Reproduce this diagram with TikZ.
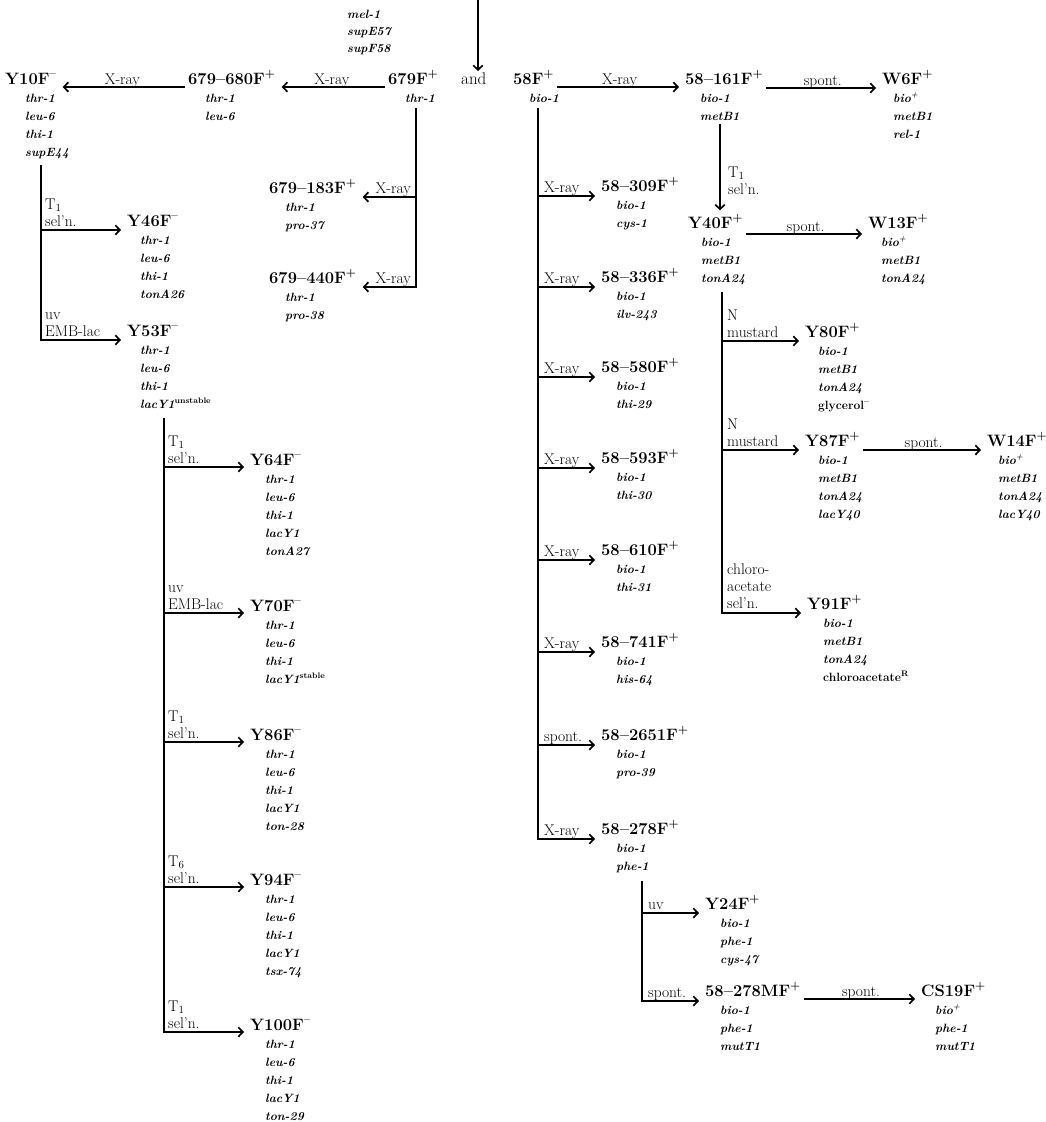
\documentclass[tikz,border=0pt]{standalone}
\usepackage{fontspec}
\usetikzlibrary{arrows.meta}

% gene lists (first baseline on top) and stacked branch labels (last baseline at bottom)
\newcommand\glines[1]{\begin{tabular}[t]{@{}l@{}}#1\end{tabular}}
\newcommand\llines[1]{\begin{tabular}[b]{@{}l@{}}#1\end{tabular}}
\newcommand\Fplus{F\textsuperscript{+}}
\newcommand\Fminus{F\textsuperscript{--}}
\newcommand\Tsub[1]{T\textsubscript{#1}}
% strain: id, x, baseline, name, x of genotype, genotype lines
\newcommand\strain[6]{%
  \node[nm] (#1) at (#2,#3) {#4};
  \node[gn] (#1g) at (#5,#3+18) {\glines{#6}};}

\begin{document}
\begin{tikzpicture}[x=1pt,y=-1pt,
  nm/.style={font=\fontsize{16.5}{18}\selectfont\bfseries, anchor=base west,
             inner xsep=3pt, inner ysep=1pt, xshift=-3pt},
  gn/.style={font=\fontsize{12}{18}\selectfont\bfseries\itshape, anchor=base west, inner sep=0pt},
  lab/.style={font=\fontsize{15.5}{17}\selectfont\addfontfeatures{FakeBold=0.8}, inner sep=0pt},
  arr/.style={line width=1.7pt, shorten >=3pt, -{Straight Barb[length=4.5pt,width=9.5pt]}},
]
\useasboundingbox (0,0) rectangle (1046,1122);

% ---- incoming line from above ----
\node[gn, font=\fontsize{12}{17}\selectfont\bfseries\itshape] (topg) at (347,18) {\glines{mel-1\\supE57\\supF58}};
\node[anchor=base west, font=\fontsize{17}{17}\selectfont\addfontfeatures{FakeBold=0.8}, inner sep=1pt] (and) at (460,84) {and};
\coordinate (tin) at (478,0);
\draw[arr, shorten >=0pt] (tin) -- (tin |- and.north);

% ---- main row ----
\strain{Y10}{5}{84}{Y10\Fminus}{25}{thr-1\\leu-6\\thi-1\\supE44}
\strain{S680}{188}{84}{679--680\Fplus}{205}{thr-1\\leu-6}
\strain{S679}{388}{84}{679\Fplus}{405}{thr-1}
\strain{S58}{513}{84}{58\Fplus}{529}{bio-1}
\strain{S161}{685}{84}{58--161\Fplus}{700}{bio-1\\metB1}
\strain{W6}{882}{84}{W6\Fplus}{893}{bio\textsuperscript{+}\\metB1\\rel-1}

\draw[arr] ([yshift=-3pt]S679.base west) -- ([yshift=-3pt]S680.base east)
  node[lab,midway,anchor=base,yshift=3pt]{X-ray};
\draw[arr] ([yshift=-3pt]S680.base west) -- ([yshift=-3pt]Y10.base east)
  node[lab,midway,anchor=base,yshift=3pt]{X-ray};
\draw[arr] ([yshift=-3pt]S58.base east) -- ([yshift=-3pt]S161.base west)
  node[lab,midway,anchor=base,yshift=3pt]{X-ray};
\draw[arr] ([yshift=-4pt]S161.base east) -- ([yshift=-4pt]W6.base west)
  node[lab,midway,anchor=base,yshift=3pt]{spont.};

% ---- 679 branches ----
\strain{S183}{269}{193}{679--183\Fplus}{285}{thr-1\\pro-37}
\strain{S440}{269}{283}{679--440\Fplus}{285}{thr-1\\pro-38}
\coordinate (t679) at (416,108);
\coordinate (k183) at (416,197);
\coordinate (k440) at (416,287);
\draw[arr] (k183) -- (k183 -| S183.east);
\draw[arr] (t679) -- (k440) -- (k440 -| S440.east);
\node[lab, anchor=base east] at (411,193) {X-ray};
\node[lab, anchor=base east] at (411,283) {X-ray};

% ---- Y10 branches ----
\strain{Y46}{127}{226}{Y46\Fminus}{140}{thr-1\\leu-6\\thi-1\\tonA26}
\strain{Y53}{127}{336}{Y53\Fminus}{140}{thr-1\\leu-6\\thi-1\\lacY1\textsuperscript{\upshape\addfontfeatures{LetterSpace=15}unstable}}
\coordinate (t10) at (41,165);
\coordinate (k46) at (41,230);
\coordinate (k53) at (41,340);
\draw[arr] (k46) -- (k46 -| Y46.west);
\draw[arr] (t10) -- (k53) -- (k53 -| Y53.west);
\node[lab, anchor=base west] at (45,226) {\llines{\Tsub{1}\\sel'n.}};
\node[lab, anchor=base west] at (45,336) {\llines{uv\\EMB-lac}};

% ---- Y53 branches ----
\strain{Y64}{250}{465}{Y64\Fminus}{265}{thr-1\\leu-6\\thi-1\\lacY1\\tonA27}
\strain{Y70}{250}{611}{Y70\Fminus}{265}{thr-1\\leu-6\\thi-1\\lacY1\textsuperscript{\upshape\addfontfeatures{LetterSpace=15}stable}}
\strain{Y86}{250}{740}{Y86\Fminus}{265}{thr-1\\leu-6\\thi-1\\lacY1\\ton-28}
\strain{Y94}{250}{885}{Y94\Fminus}{265}{thr-1\\leu-6\\thi-1\\lacY1\\tsx-74}
\strain{Y100}{250}{1030}{Y100\Fminus}{265}{thr-1\\leu-6\\thi-1\\lacY1\\ton-29}
\coordinate (t53) at (164,418);
\coordinate (k64) at (164,467);
\coordinate (k70) at (164,613);
\coordinate (k86) at (164,742);
\coordinate (k94) at (164,887);
\coordinate (k100) at (164,1032);
\draw[arr] (k64) -- (k64 -| Y64.west);
\draw[arr] (k70) -- (k70 -| Y70.west);
\draw[arr] (k86) -- (k86 -| Y86.west);
\draw[arr] (k94) -- (k94 -| Y94.west);
\draw[arr] (t53) -- (k100) -- (k100 -| Y100.west);
\node[lab, anchor=base west] at (168,463) {\llines{\Tsub{1}\\sel'n.}};
\node[lab, anchor=base west] at (168,609) {\llines{uv\\EMB-lac}};
\node[lab, anchor=base west] at (168,738) {\llines{\Tsub{1}\\sel'n.}};
\node[lab, anchor=base west] at (168,883) {\llines{\Tsub{6}\\sel'n.}};
\node[lab, anchor=base west] at (168,1028) {\llines{\Tsub{1}\\sel'n.}};

% ---- 58 branches ----
\strain{S309}{601}{191}{58--309\Fplus}{616}{bio-1\\cys-1}
\strain{S336}{601}{282}{58--336\Fplus}{616}{bio-1\\ilv-243}
\strain{S580}{601}{372}{58--580\Fplus}{616}{bio-1\\thi-29}
\strain{S593}{601}{463}{58--593\Fplus}{616}{bio-1\\thi-30}
\strain{S610}{601}{555}{58--610\Fplus}{616}{bio-1\\thi-31}
\strain{S741}{601}{647}{58--741\Fplus}{616}{bio-1\\his-64}
\strain{S2651}{601}{740}{58--2651\Fplus}{616}{bio-1\\pro-39}
\strain{S278}{601}{834}{58--278\Fplus}{616}{bio-1\\phe-1}
\coordinate (t58) at (538,108);
\coordinate (k309) at (538,196);
\coordinate (k336) at (538,287);
\coordinate (k580) at (538,377);
\coordinate (k593) at (538,468);
\coordinate (k610) at (538,560);
\coordinate (k741) at (538,652);
\coordinate (k2651) at (538,745);
\coordinate (k278) at (538,839);
\draw[arr] (k309) -- (k309 -| S309.west);
\draw[arr] (k336) -- (k336 -| S336.west);
\draw[arr] (k580) -- (k580 -| S580.west);
\draw[arr] (k593) -- (k593 -| S593.west);
\draw[arr] (k610) -- (k610 -| S610.west);
\draw[arr] (k741) -- (k741 -| S741.west);
\draw[arr] (k2651) -- (k2651 -| S2651.west);
\draw[arr] (t58) -- (k278) -- (k278 -| S278.west);
\foreach \k/\t in {k309/X-ray,k336/X-ray,k580/X-ray,k593/X-ray,k610/X-ray,k741/X-ray,k2651/spont.,k278/X-ray}
  \node[lab, anchor=base west] at ([xshift=6pt,yshift=4pt]\k) {\t};

% ---- 58-161 line ----
\strain{Y40}{688}{228}{Y40\Fplus}{701}{bio-1\\metB1\\tonA24}
\strain{W13}{868}{228}{W13\Fplus}{881}{bio\textsuperscript{+}\\metB1\\tonA24}
\coordinate (t161) at (720,124);
\draw[arr] (t161) -- (t161 |- Y40.north);
\node[lab, anchor=base west] at (728,194) {\llines{\Tsub{1}\\sel'n.}};
\draw[arr] ([yshift=-6pt]Y40.base east) -- ([yshift=-6pt]W13.base west)
  node[lab,midway,anchor=base,yshift=3pt]{spont.};

\strain{Y80}{805}{337}{Y80\Fplus}{818}{bio-1\\metB1\\tonA24\\\upshape glycerol\textsuperscript{--}}
\strain{Y87}{805}{446}{Y87\Fplus}{818}{bio-1\\metB1\\tonA24\\lacY40}
\strain{W14}{987}{446}{W14\Fplus}{998}{bio\textsuperscript{+}\\metB1\\tonA24\\lacY40}
\strain{Y91}{807}{609}{Y91\Fplus}{823}{bio-1\\metB1\\tonA24\\\upshape chloroacetate\textsuperscript{R}}
\coordinate (t40) at (722,292);
\coordinate (k80) at (722,341);
\coordinate (k87) at (722,450);
\coordinate (k91) at (722,613);
\draw[arr] (k80) -- (k80 -| Y80.west);
\draw[arr] (k87) -- (k87 -| Y87.west);
\draw[arr] (t40) -- (k91) -- (k91 -| Y91.west);
\node[lab, anchor=base west] at (727,337) {\llines{N\\mustard}};
\node[lab, anchor=base west] at (727,446) {\llines{N\\mustard}};
\node[lab, anchor=base west] at (727,608) {\llines{chloro-\\acetate\\sel'n.}};
\draw[arr] ([yshift=-4pt]Y87.base east) -- ([yshift=-4pt]W14.base west)
  node[lab,midway,anchor=base,yshift=3pt]{spont.};

% ---- 58-278 line ----
\strain{Y24}{705}{909}{Y24\Fplus}{720}{bio-1\\phe-1\\cys-47}
\strain{M278}{705}{996}{58--278M\Fplus}{720}{bio-1\\phe-1\\mutT1}
\strain{CS19}{921}{996}{CS19\Fplus}{935}{bio\textsuperscript{+}\\phe-1\\mutT1}
\coordinate (t278) at (642,881);
\coordinate (k24) at (642,913);
\coordinate (kM) at (642,1001);
\draw[arr] (k24) -- (k24 -| Y24.west);
\draw[arr] (t278) -- (kM) -- (kM -| M278.west);
\node[lab, anchor=base west] at (648,909) {uv};
\node[lab, anchor=base west] at (648,997) {spont.};
\draw[arr] ([yshift=-3pt]M278.base east) -- ([yshift=-3pt]CS19.base west)
  node[lab,midway,anchor=base,yshift=3pt]{spont.};
\end{tikzpicture}
\end{document}
